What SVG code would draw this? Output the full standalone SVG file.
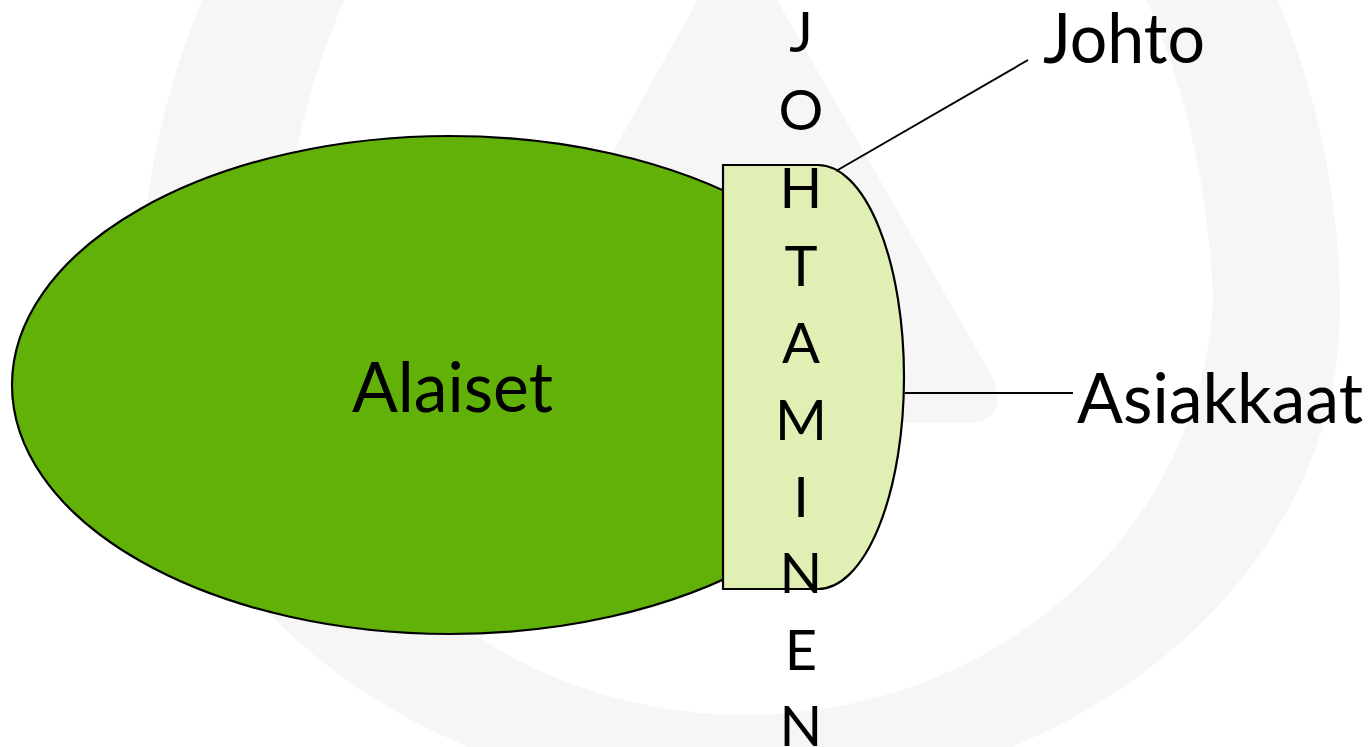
<svg xmlns="http://www.w3.org/2000/svg" width="1372" height="747" viewBox="0 0 1372 747">
  <style>
    .lbl { font-family: Lato, "Open Sans", "Liberation Sans", sans-serif; fill: #000; }
    .big { font-size: 70px; }
    .vert { font-size: 56px; text-anchor: middle; }
    .wm { fill: #f6f6f6; }
    .conn { stroke: #000; stroke-width: 2; fill: none; }
    .shape { stroke: #000; stroke-width: 2.2; }
  </style>
  <rect x="0" y="0" width="1372" height="747" fill="#ffffff"/>
  <g id="watermark">
    <path class="wm" fill-rule="evenodd" d="M 140,310 A 600,700 0 0 1 1340,310 A 600,490 0 0 1 140,310 Z M 278,300 A 468,640 0 0 1 1213,300 A 468,435 0 0 1 278,300 Z"/>
    <path class="wm" d="M 737,-70 L 461,423 L 965,423 Q 1010,423 993,378 Z"/>
  </g>
  <g id="alaiset">
    <ellipse class="shape" cx="450" cy="385" rx="438" ry="249" fill="#61b108"/>
    <text class="lbl big" x="352" y="412" textLength="201" lengthAdjust="spacingAndGlyphs">Alaiset</text>
  </g>
  <g id="johtaminen">
    <path class="shape" d="M 723,165 L 818,165 A 86,212 0 0 1 818,589 L 723,589 Z" fill="#e0efb3"/>
    <text class="lbl vert" x="801" y="52">J</text>
    <text class="lbl vert" x="801" y="130">O</text>
    <text class="lbl vert" x="801" y="208">H</text>
    <text class="lbl vert" x="801" y="286">T</text>
    <text class="lbl vert" x="801" y="363">A</text>
    <text class="lbl vert" x="801" y="440">M</text>
    <text class="lbl vert" x="801" y="517">I</text>
    <text class="lbl vert" x="801" y="593">N</text>
    <text class="lbl vert" x="801" y="670">E</text>
    <text class="lbl vert" x="801" y="746">N</text>
  </g>
  <g id="connectors">
    <line class="conn" x1="836" y1="171" x2="1028" y2="60"/>
    <line class="conn" x1="905" y1="393" x2="1073" y2="393"/>
  </g>
  <g id="johto">
    <text class="lbl big" x="1043" y="63" textLength="162" lengthAdjust="spacingAndGlyphs">Johto</text>
  </g>
  <g id="asiakkaat">
    <text class="lbl big" x="1077" y="423" textLength="286" lengthAdjust="spacingAndGlyphs">Asiakkaat</text>
  </g>
</svg>
